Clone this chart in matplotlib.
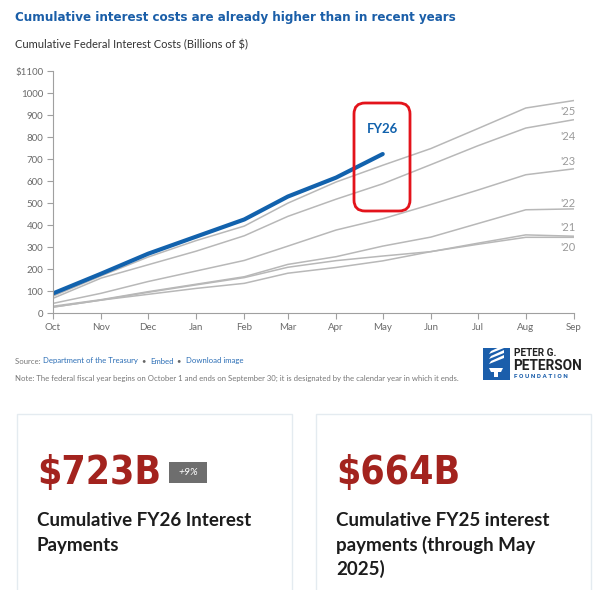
import matplotlib
matplotlib.use('Agg')
import matplotlib.pyplot as plt
from matplotlib import font_manager
from matplotlib.font_manager import FontProperties
from matplotlib.patches import FancyBboxPatch, Rectangle, Polygon
from matplotlib.transforms import IdentityTransform
import pandas as pd

# data (billions of $), fiscal year months Oct..Sep
months = pd.date_range('2025-10-01', periods=12, freq='MS')
month_labels = ['Oct', 'Nov', 'Dec', 'Jan', 'Feb', 'Mar', 'Apr', 'May', 'Jun', 'Jul', 'Aug', 'Sep']

fy26 = [90, 180, 270, 348, 426, 530, 616, 723]
fy25 = [78, 170, 255, 330, 396, 500, 596, 672, 748, 838, 932, 966]
fy24 = [68, 160, 220, 282, 352, 440, 518, 588, 675, 760, 841, 879]
fy23 = [45, 91, 144, 192, 240, 305, 378, 429, 494, 559, 629, 656]
fy22 = [32, 62, 98, 132, 166, 222, 257, 305, 346, 407, 470, 474]
fy21 = [28, 60, 95, 129, 162, 209, 239, 260, 280, 318, 356, 350]
fy20 = [28, 60, 86, 113, 136, 182, 208, 238, 280, 313, 345, 345]

past_names = ["'25", "'24", "'23", "'22", "'21", "'20"]
past_values = [fy25, fy24, fy23, fy22, fy21, fy20]
name_offsets = [-8, -12, 5, 4, 6, -7]  # points, label vs line end

yticks = list(range(0, 1200, 100))
ytick_labels = [str(v) for v in yticks[:-1]] + ['$1100']

card_values = ['$723B', '$664B']
card_texts = [['Cumulative FY26 Interest', 'Payments'],
              ['Cumulative FY25 interest', 'payments (through May', '2025)']]
badge = '+9%'

W, H = 601, 590
BLUE = '#1262ad'
GRAY = '#b8b8b8'


def is_bold(f):
    w = f.weight
    if isinstance(w, str):
        w = font_manager.weight_dict.get(w, 400)
    return w >= 600


# look for a bold condensed face on the system, else Roboto bold
narrow = [f for f in font_manager.fontManager.ttflist
          if is_bold(f) and ('Condensed' in f.name or 'Narrow' in f.name
                             or 'Condensed' in f.fname or 'Narrow' in f.fname
                             or f.stretch in ('condensed', 'semi-condensed', 'extra-condensed'))]
if narrow:
    narrow.sort(key=lambda f: ('Italic' in f.fname or 'Oblique' in f.fname, f.fname))
    NARROW = FontProperties(fname=narrow[0].fname)
else:
    NARROW = FontProperties(family='Roboto', weight='bold')


def fx(px):
    return px / W


def fy(py):
    return 1 - py / H


fig = plt.figure(figsize=(W / 100, H / 100), dpi=100)
ax = fig.add_axes([fx(53), fy(313.3), 521 / W, 242.3 / H])

for vals in past_values:
    ax.plot(months[:len(vals)], vals, color=GRAY, lw=1.1, solid_capstyle='round')
ax.plot(months[:len(fy26)], fy26, color=BLUE, lw=3, solid_capstyle='round')

for name, vals, off in zip(past_names, past_values, name_offsets):
    ax.annotate(name, xy=(months[len(vals) - 1], vals[-1]), xytext=(1, off),
                textcoords='offset points', ha='right', va='center',
                color='#9a9a9a', fontsize=8, family='Lato')

ax.annotate('FY26', xy=(months[len(fy26) - 1], fy26[-1]), xytext=(0, 18),
            textcoords='offset points', ha='center', va='center',
            color=BLUE, fontsize=9.5, family='Lato', fontweight='bold')

ax.set_xlim(months[0], months[-1])
ax.set_ylim(0, 1100)
ax.set_xticks(months)
ax.set_xticklabels(month_labels)
ax.set_yticks(yticks)
ax.set_yticklabels(ytick_labels)
for s in ['top', 'right']:
    ax.spines[s].set_visible(False)
for s in ['left', 'bottom']:
    ax.spines[s].set_color('#a0a0a0')
    ax.spines[s].set_linewidth(0.8)
ax.tick_params(direction='out', length=4, width=0.8, color='#a0a0a0',
               labelcolor='#6a6a6a', labelsize=7, pad=3)
for lab in ax.get_xticklabels() + ax.get_yticklabels():
    lab.set_family('Lato')

# red highlight box
fig.add_artist(FancyBboxPatch((354, H - 211), 56, 108,
                              boxstyle='round,pad=0,rounding_size=11',
                              transform=IdentityTransform(), fill=False,
                              ec='#e3131b', lw=2))

fig.canvas.draw()
renderer = fig.canvas.get_renderer()


def fit_width(t, width, max_size):
    # shrink the font until the text is as wide as in the reference
    w = t.get_window_extent(renderer).width
    t.set_fontsize(min(max_size, t.get_fontsize() * width / w))


# titles
title = fig.text(fx(15), fy(17), 'Cumulative interest costs are already higher than in recent years',
                 color='#1a5ea8', fontproperties=NARROW, va='center')
title.set_fontsize(15)
fit_width(title, 443, 16)
fig.text(fx(15), fy(45), 'Cumulative Federal Interest Costs (Billions of $)',
         color='#333333', fontsize=8.0, family='Lato', va='center')

# source line, pieces placed one after another
x = 15
for piece, col in [('Source: ', '#777777'), ('Department of the Treasury', '#2a6db5'),
                   ('  \u2022  ', '#666666'), ('Embed', '#2a6db5'),
                   ('  \u2022  ', '#666666'), ('Download image', '#2a6db5')]:
    t = fig.text(fx(x), fy(361), piece, color=col, fontsize=5.6, family='Lato', va='center')
    x = t.get_window_extent(renderer).x1
fig.text(fx(15), fy(378), 'Note: The federal fiscal year begins on October 1 and ends on September 30; '
         'it is designated by the calendar year in which it ends.',
         color='#777777', fontsize=5.6, family='Lato', va='center')

# logo
fig.add_artist(Rectangle((483, H - 380), 27, 32, transform=IdentityTransform(),
                         fc='#1b5eab', ec='none'))
fig.add_artist(Polygon([(489, H - 368), (503, H - 368), (501, H - 372), (491, H - 372)],
                       closed=True, transform=IdentityTransform(), fc='white', ec='none'))
fig.add_artist(Rectangle((494, H - 377), 4, 5, transform=IdentityTransform(), fc='white', ec='none'))
for dy in [0, 5, 10]:
    fig.add_artist(Polygon([(489, H - 364 + dy), (504, H - 358 + dy), (504, H - 355 + dy), (491, H - 361 + dy)],
                           closed=True, transform=IdentityTransform(), fc='white', ec='none'))
fig.text(fx(514), fy(353), 'PETER G.', color='#222222', fontsize=7.2, fontweight='bold',
         family='Roboto', va='center')
fig.text(fx(513), fy(366), 'PETERSON', color='#222222', fontsize=9.8, fontweight='bold',
         family='Roboto', va='center')
fig.text(fx(514), fy(377), 'F O U N D A T I O N', color='#1b5eab', fontsize=4.6, fontweight='bold',
         family='Roboto', va='center')

# cards
num_ends = []
for i, left in enumerate([17, 316]):
    fig.add_artist(Rectangle((left, -5), 275, H - 414 + 5, transform=IdentityTransform(),
                             fc='white', ec='#e4ebf0', lw=1))
    num = fig.text(fx(left + 20), fy(484), card_values[i], color='#a3231e',
                   fontproperties=NARROW, va='baseline')
    num.set_fontsize(40)
    fit_width(num, 124, 40)
    num_ends.append(num.get_window_extent(renderer).x1)
    for j, line in enumerate(card_texts[i]):
        fig.text(fx(left + 20), fy(521 + 24 * j), line, color='#1c1c1c', fontsize=13.5,
                 fontweight='bold', family='Lato', va='center')

bx = num_ends[0] + 8
fig.add_artist(Rectangle((bx, H - 483), 38, 21, transform=IdentityTransform(),
                         fc='#6e6e6e', ec='none'))
fig.text(fx(bx + 19), fy(472.5), badge, color='white', fontsize=7.5, family='Lato',
         ha='center', va='center', style='italic')

fig.savefig('out.png', dpi=100)
